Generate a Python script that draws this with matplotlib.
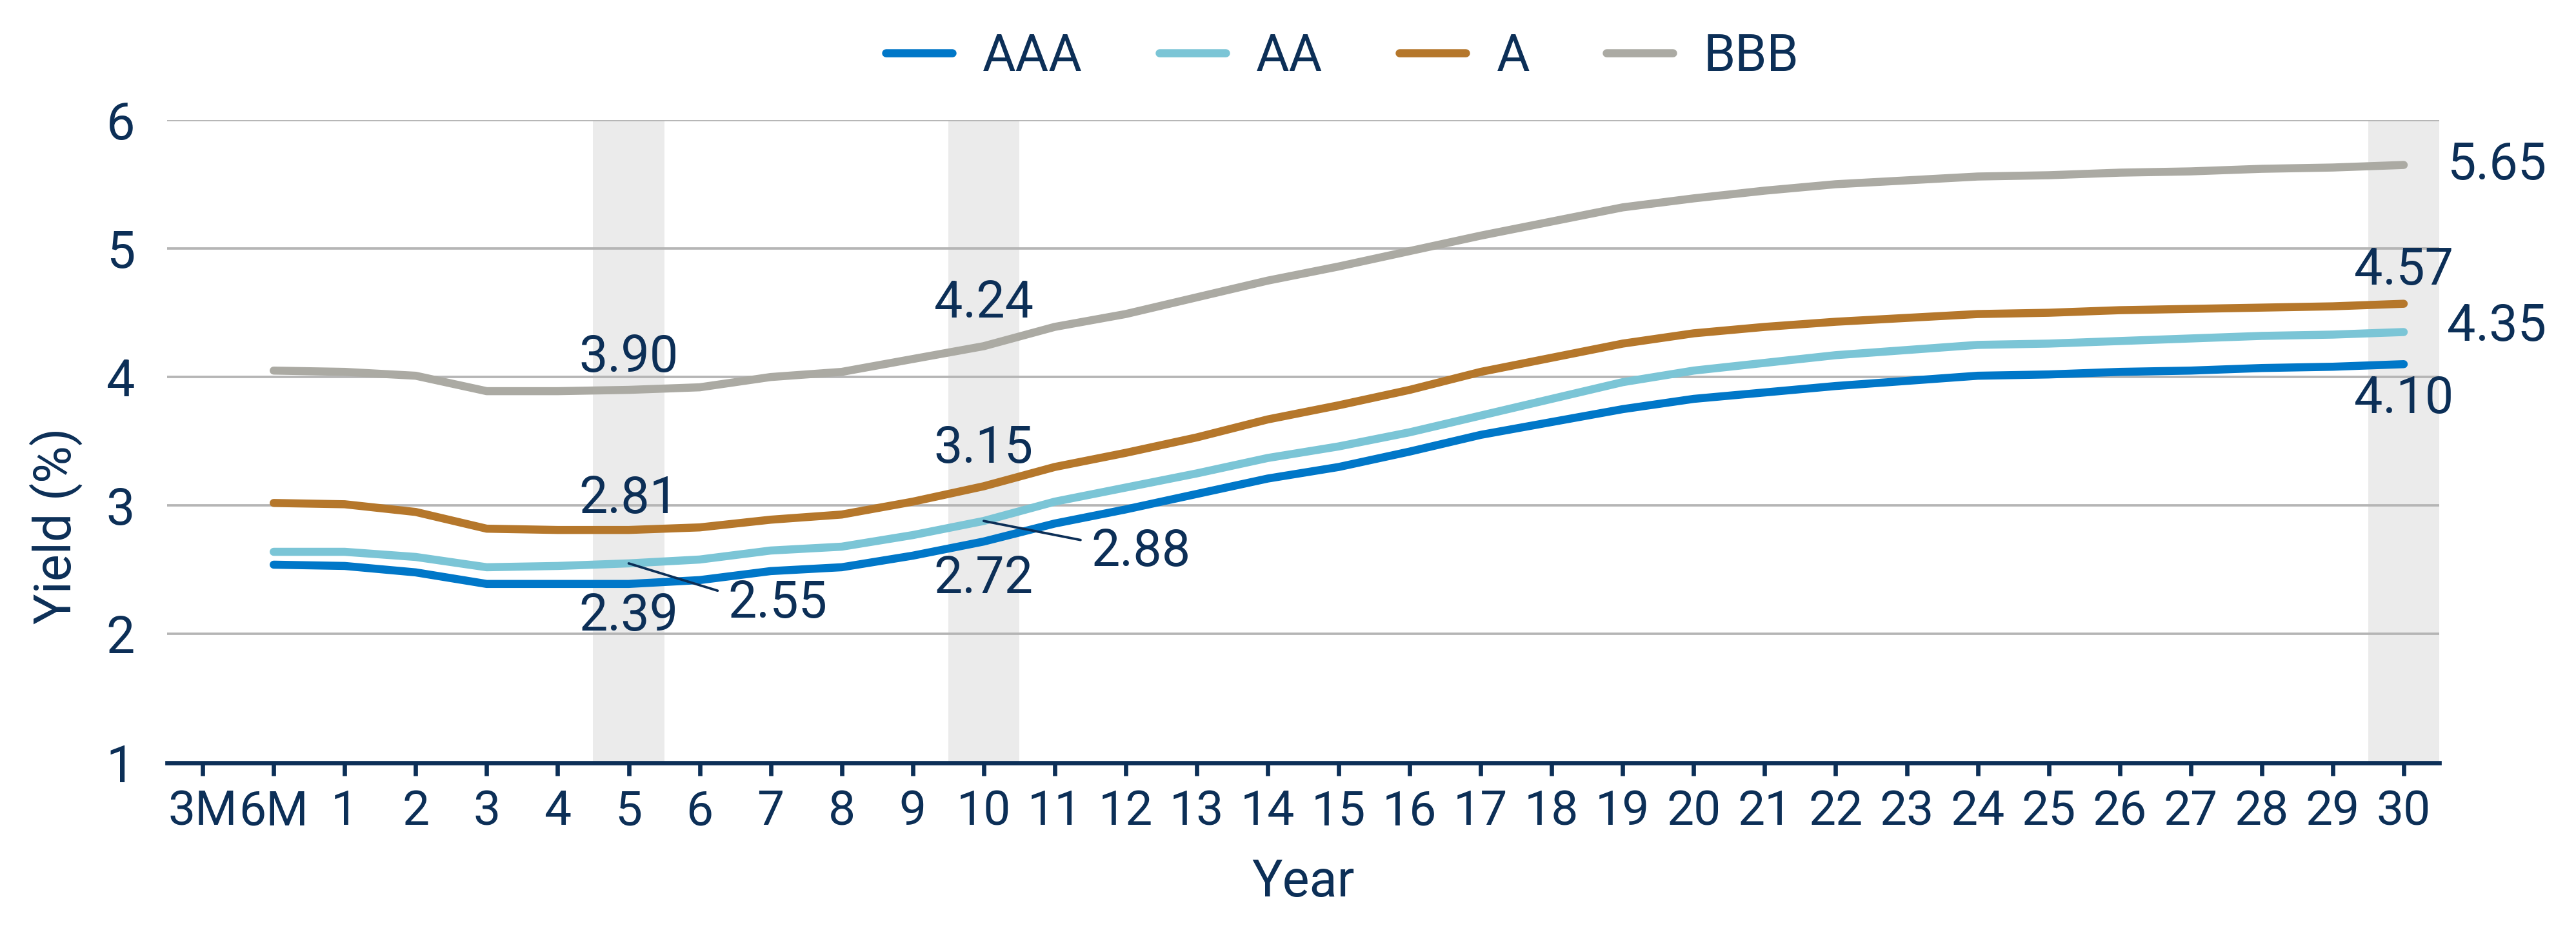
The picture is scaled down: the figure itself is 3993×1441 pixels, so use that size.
import numpy as np
import matplotlib
matplotlib.use("Agg")
import matplotlib.pyplot as plt

plt.rcParams['font.family'] = ['Roboto', 'DejaVu Sans']

# x categories (3M has no data)
categories = ['3M', '6M'] + [str(y) for y in range(1, 31)]
data_cats = categories[1:]

aaa = [2.54, 2.53, 2.48, 2.39, 2.39, 2.39, 2.42, 2.49, 2.52, 2.61, 2.72,
       2.86, 2.97, 3.09, 3.21, 3.30, 3.42, 3.55, 3.65, 3.75, 3.83, 3.88,
       3.93, 3.97, 4.01, 4.02, 4.04, 4.05, 4.07, 4.08, 4.10]
aa = [2.64, 2.64, 2.60, 2.52, 2.53, 2.55, 2.58, 2.65, 2.68, 2.77, 2.88,
      3.03, 3.14, 3.25, 3.37, 3.46, 3.57, 3.70, 3.83, 3.96, 4.05, 4.11,
      4.17, 4.21, 4.25, 4.26, 4.28, 4.30, 4.32, 4.33, 4.35]
a = [3.02, 3.01, 2.95, 2.82, 2.81, 2.81, 2.83, 2.89, 2.93, 3.03, 3.15,
     3.30, 3.41, 3.53, 3.67, 3.78, 3.90, 4.04, 4.15, 4.26, 4.34, 4.39,
     4.43, 4.46, 4.49, 4.50, 4.52, 4.53, 4.54, 4.55, 4.57]
bbb = [4.05, 4.04, 4.01, 3.89, 3.89, 3.90, 3.92, 4.00, 4.04, 4.14, 4.24,
       4.39, 4.49, 4.62, 4.75, 4.86, 4.98, 5.10, 5.21, 5.32, 5.39, 5.45,
       5.50, 5.53, 5.56, 5.57, 5.59, 5.60, 5.62, 5.63, 5.65]

series_names = ['AAA', 'AA', 'A', 'BBB']
series_vals = [aaa, aa, a, bbb]
colors = ['#0077c8', '#7bc5d6', '#b5772b', '#abaaa3']
highlight_years = ['5', '10', '30']

navy = '#0c2f57'

fig = plt.figure(figsize=(3993 / 300, 1441 / 300), dpi=300)
ax = fig.add_axes([0.0649, 0.180, 0.882, 0.691])

x_idx = np.arange(len(categories))
x_data = np.array([categories.index(c) for c in data_cats])

for yr in highlight_years:
    i = categories.index(yr)
    ax.axvspan(i - 0.5, i + 0.5, color='#ebebeb', zorder=0.2, lw=0)

lines = []
for name, vals, col in zip(series_names, series_vals, colors):
    ln, = ax.plot(x_data, vals, color=col, lw=3.0, label=name,
                  solid_capstyle='round', zorder=3)
    lines.append(ln)

# data labels: (series, year) -> (dx pt, dy pt, ha, leader)
label_style = {
    ('BBB', '5'): (0, 12, 'center', False),
    ('A', '5'): (0, 11.5, 'center', False),
    ('AAA', '5'): (0, -12, 'center', False),
    ('AA', '5'): (37, -15, 'left', True),
    ('BBB', '10'): (0, 16, 'center', False),
    ('A', '10'): (0, 14, 'center', False),
    ('AAA', '10'): (0, -14, 'center', False),
    ('AA', '10'): (40, -11.5, 'left', True),
    ('BBB', '30'): (16, 0, 'left', False),
    ('A', '30'): (0, 12.5, 'center', False),
    ('AA', '30'): (16, 2, 'left', False),
    ('AAA', '30'): (0, -13, 'center', False),
}
for (name, yr), (dx, dy, ha, leader) in label_style.items():
    vals = series_vals[series_names.index(name)]
    i = categories.index(yr)
    v = vals[data_cats.index(yr)]
    kw = {}
    if leader:
        kw['arrowprops'] = dict(arrowstyle='-', color=navy, lw=0.9,
                                shrinkA=2, shrinkB=0, relpos=(0, 0.7))
    ax.annotate(f'{v:.2f}', xy=(i, v), xytext=(dx, dy),
                textcoords='offset points', ha=ha, va='center',
                fontsize=19, color=navy, annotation_clip=False, zorder=5, **kw)

ax.set_xlim(-0.5, len(categories) - 0.5)
ax.set_ylim(1, 6)
ax.set_xticks(x_idx)
ax.set_xticklabels(categories)
ax.set_yticks([1, 2, 3, 4, 5, 6])

ax.set_axisbelow(True)
ax.yaxis.grid(True, color='#b5b5b5', lw=0.9)
ax.xaxis.grid(False)
for s in ['top', 'right', 'left']:
    ax.spines[s].set_visible(False)
ax.spines['bottom'].set_color(navy)
ax.spines['bottom'].set_linewidth(1.6)
ax.spines['bottom'].set_zorder(4)

ax.tick_params(axis='x', direction='out', length=4.8, width=1.6,
               color=navy, labelcolor=navy, labelsize=18, pad=5)
ax.tick_params(axis='y', length=0, labelcolor=navy, labelsize=19, pad=12)

ax.set_xlabel('Year', fontsize=19, color=navy)
ax.xaxis.label.set_va('center')
ax.xaxis.set_label_coords(0.5, -0.186)
ax.set_ylabel('Yield (%)', fontsize=19, color=navy)
ax.yaxis.label.set_va('center')
ax.yaxis.set_label_coords(-0.049, 0.368)

fig.legend(handles=lines, loc='center', bbox_to_anchor=(0.521, 0.939),
           ncol=4, frameon=False, fontsize=19, labelcolor=navy,
           handlelength=1.3, handletextpad=0.6, columnspacing=1.5)

fig.savefig('out.png', dpi=300)
